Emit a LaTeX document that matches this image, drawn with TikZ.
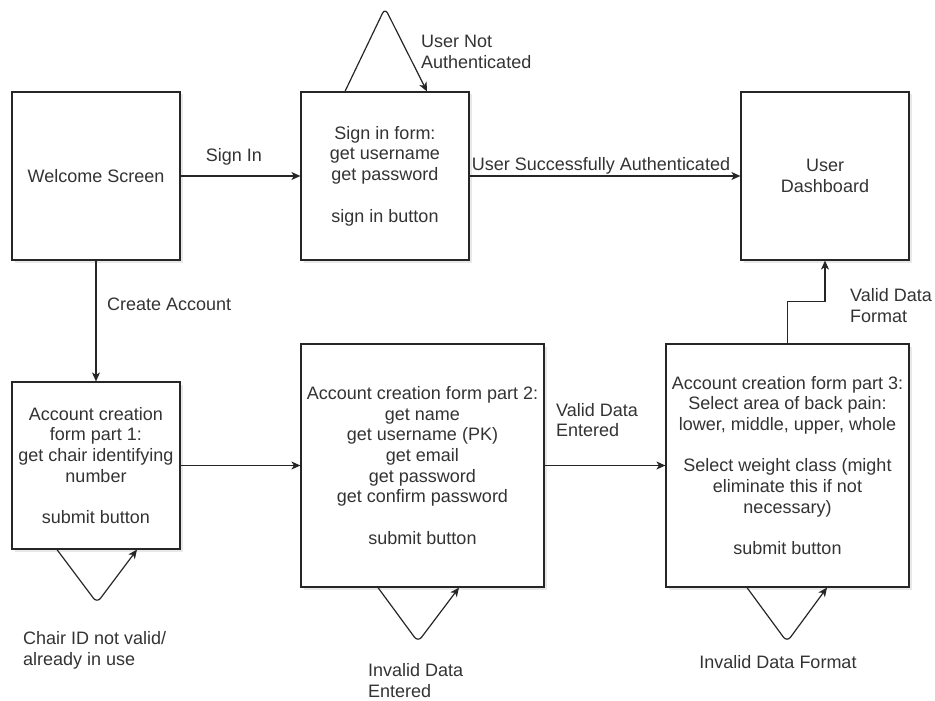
\documentclass[tikz,border=0pt]{standalone}
\usepackage{fontspec}
\setmainfont{Liberation Sans}
\usetikzlibrary{arrows.meta,calc,shadows}
\definecolor{txt}{HTML}{333333}
\begin{document}
\begin{tikzpicture}[x=1pt,y=-1pt,
  fnt/.style={font=\fontsize{18}{20.7}\selectfont},
  box/.style={draw=black!85, line width=1.2pt, fill=white, align=center, inner sep=0pt,
    text=txt, fnt, drop shadow={shadow xshift=2.5pt, shadow yshift=-2.5pt, opacity=0.18}},
  lbl/.style={text=txt, fnt, align=left, inner sep=0pt},
  conn/.style={draw=black!85, line width=1.2pt, -{Stealth[length=9pt,width=8pt,inset=2.5pt]}},
  loopline/.style={conn, rounded corners=6pt}]
\useasboundingbox (0,0) rectangle (935,701);

% boxes
\node[box, minimum width=168pt, minimum height=168pt] (welcome) at (96,176) {Welcome Screen};
\node[box, minimum width=168pt, minimum height=168pt] (signin) at (385,176)
  {Sign in form:\\get username\\get password\\[20.7pt]sign in button};
\node[box, minimum width=168pt, minimum height=168pt] (dash) at (825,176) {User\\Dashboard};
\node[box, minimum width=168pt, minimum height=167pt] (part1) at (96,465.5)
  {Account creation\\form part 1:\\get chair identifying\\number\\[20.7pt]submit button};
\node[box, minimum width=243pt, minimum height=243pt] (part2) at (422.5,465.5)
  {Account creation form part 2:\\get name\\get username (PK)\\get email\\get password\\get confirm password\\[20.7pt]submit button};
\node[box, minimum width=243pt, minimum height=243pt] (part3) at (787.5,465.5)
  {Account creation form part 3:\\Select area of back pain:\\lower, middle, upper, whole\\[20.7pt]Select weight class (might\\eliminate this if not\\necessary)\\[20.7pt]submit button};

% connectors
\draw[conn] (welcome) -- (signin);
\draw[conn] (signin) -- (dash);
\draw[conn] (welcome) -- (part1);
\draw[conn] (part1.east) -- (part1.east -| part2.west);
\draw[conn] (part2) -- (part3);
\coordinate (bend) at ($(part3.north)+(0,-42)$);
\draw[conn] (part3.north) -- (bend) -| (dash.south);

% self loops
\coordinate (toppeak) at (385,8);
\draw[loopline] ([xshift=-40pt]signin.north) -- (toppeak) -- ([xshift=42pt]signin.north);
\coordinate (p1low) at (97,603);
\draw[loopline] ([xshift=-39pt]part1.south) -- (p1low) -- ([xshift=41pt]part1.south);
\coordinate (p2low) at (418,642);
\draw[loopline] ([xshift=-44.5pt]part2.south) -- (p2low) -- ([xshift=36.5pt]part2.south);
\coordinate (p3low) at (787,642);
\draw[loopline] ([xshift=-40.5pt]part3.south) -- (p3low) -- ([xshift=39.5pt]part3.south);

% labels
\node[lbl] (lsignin) at (234,157) {Sign In};
\node[lbl] (lsucc) at (601,166) {User Successfully Authenticated};
\node[lbl, anchor=west] (lcreate) at (107,304) {Create Account};
\node[lbl, anchor=west] (lnotauth) at (421,52) {User Not\\Authenticated};
\node[lbl, anchor=west] (lvalid) at (556,420) {Valid Data\\Entered};
\node[lbl, anchor=west] (lvform) at (850,305.5) {Valid Data\\Format};
\node[lbl, anchor=west] (lchair) at (23,650.5) {Chair ID not valid/\\already in use};
\node[lbl, anchor=west] (linvent) at (368,680.5) {Invalid Data\\Entered};
\node[lbl] (linvform) at (778,662) {Invalid Data Format};
\end{tikzpicture}
\end{document}
